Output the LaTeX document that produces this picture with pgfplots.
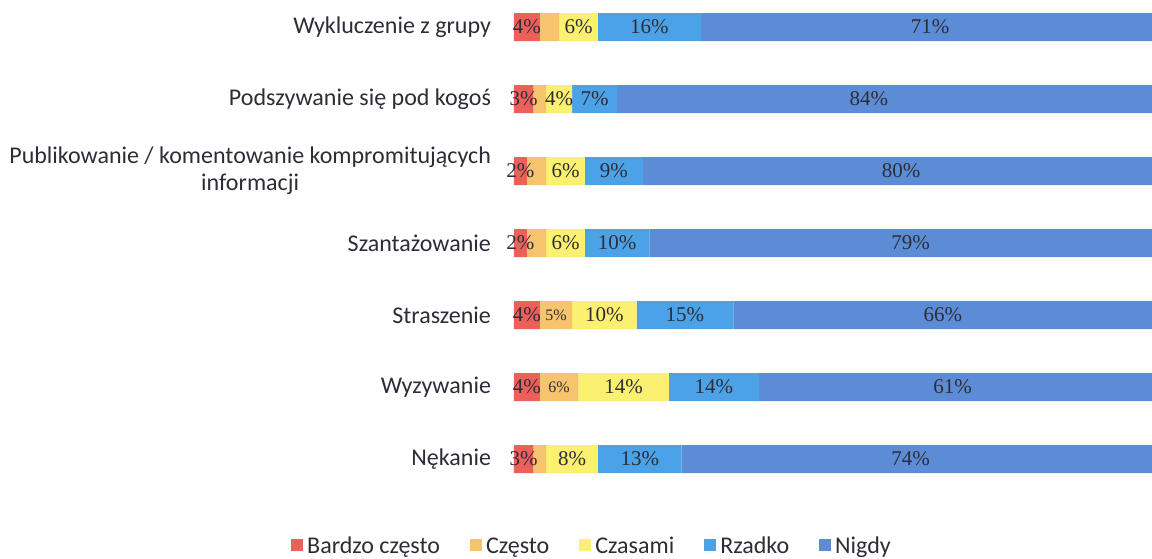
\documentclass[border=0pt]{standalone}
\usepackage{fontspec}
\setmainfont{Carlito}
\newfontfamily\numfont{Liberation Serif}
\usepackage{pgfplots}
\pgfplotsset{compat=1.18}
\definecolor{cRed}{RGB}{236,96,90}
\definecolor{cOra}{RGB}{246,196,108}
\definecolor{cYel}{RGB}{252,240,112}
\definecolor{cLbl}{RGB}{76,162,230}
\definecolor{cBlu}{RGB}{92,140,214}
\definecolor{txt}{RGB}{45,45,55}
\begin{document}
\begin{tikzpicture}
\useasboundingbox (0,0) rectangle (576pt,279pt);
\begin{axis}[
  at={(257pt,31.5pt)}, anchor=south west,
  scale only axis, width=322.5pt, height=252pt,
  xmin=0, xmax=100, ymin=-0.5, ymax=6.5,
  xbar stacked, bar width=14pt,
  axis line style={draw=none}, tick style={draw=none},
  xtick=\empty,
  ytick={0,1,2,3,4,5,6},
  yticklabels={N\k{e}kanie, Wyzywanie, Straszenie, Szanta\.zowanie,
    {Publikowanie / komentowanie kompromituj\k{a}cych\\informacji},
    Podszywanie si\k{e} pod kogo\'s, Wykluczenie z grupy},
  yticklabel style={align=center, font=\fontsize{12}{13.5}\selectfont, text=txt, xshift=-8pt},
  clip=false,
  legend columns=5,
  legend style={at={(0.1225,-0.1032)}, anchor=center, draw=none, fill=none,
    font=\fontsize{12}{14}\selectfont, text=txt,
    /tikz/every even column/.append style={column sep=13pt}},
  legend image code/.code={\fill[#1] (0pt,-2pt) rectangle (6pt,4pt);},
]
\addplot[fill=cRed, draw=none] coordinates {(3,0) (4,1) (4,2) (2,3) (2,4) (3,5) (4,6)};
\addplot[fill=cOra, draw=none] coordinates {(2,0) (6,1) (5,2) (3,3) (3,4) (2,5) (3,6)};
\addplot[fill=cYel, draw=none] coordinates {(8,0) (14,1) (10,2) (6,3) (6,4) (4,5) (6,6)};
\addplot[fill=cLbl, draw=none] coordinates {(13,0) (14,1) (15,2) (10,3) (9,4) (7,5) (16,6)};
\addplot[fill=cBlu, draw=none] coordinates {(74,0) (61,1) (66,2) (79,3) (80,4) (84,5) (71,6)};
\legend{Bardzo cz\k{e}sto, Cz\k{e}sto, Czasami, Rzadko, Nigdy}
\end{axis}
\begin{axis}[
  at={(257pt,31.5pt)}, anchor=south west,
  scale only axis, width=322.5pt, height=252pt,
  xmin=0, xmax=100, ymin=-0.5, ymax=6.5,
  hide axis, clip=false,
  /pgf/number format/assume math mode=true,
]
\addplot[draw=none, mark=none, point meta=explicit,
  nodes near coords={\pgfmathprintnumber{\pgfplotspointmeta}\%},
  nodes near coords align=center,
  every node near coord/.append style={font=\numfont\fontsize{10.5}{12}\selectfont, text=txt, inner sep=0pt}]
  coordinates {
  (1.5,0) [3] (9,0) [8] (19.5,0) [13] (61.5,0) [74]
  (2,1) [4] (17,1) [14] (31,1) [14] (68,1) [61]
  (2,2) [4] (14,2) [10] (26.5,2) [15] (66.5,2) [66]
  (1,3) [2] (8,3) [6] (16,3) [10] (61.5,3) [79]
  (1,4) [2] (8,4) [6] (15.5,4) [9] (60,4) [80]
  (1.5,5) [3] (7,5) [4] (12.5,5) [7] (55,5) [84]
  (2,6) [4] (10,6) [6] (21,6) [16] (64.5,6) [71]
  };
\addplot[draw=none, mark=none, point meta=explicit,
  nodes near coords={\pgfmathprintnumber{\pgfplotspointmeta}\%},
  nodes near coords align=center,
  every node near coord/.append style={font=\numfont\fontsize{8}{10}\selectfont, text=txt, inner sep=0pt}]
  coordinates {(6.5,2) [5] (7,1) [6]};
\end{axis}
\end{tikzpicture}
\end{document}
